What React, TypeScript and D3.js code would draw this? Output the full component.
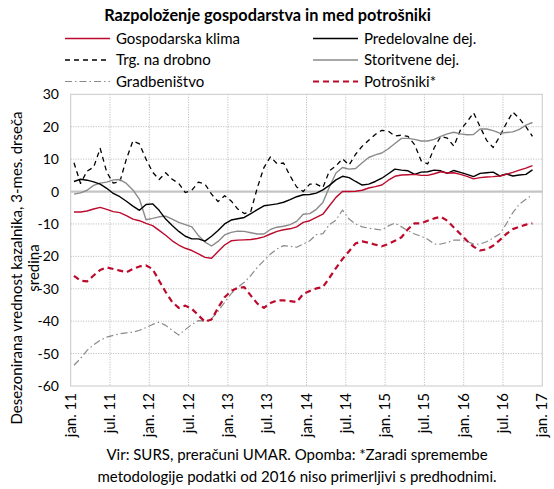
import * as d3 from "d3";

// mesečni podatki jan. 2011 – nov. 2016
const tickLabels = [
  "jan. 11", "jul. 11", "jan. 12", "jul. 12", "jan. 13", "jul. 13", "jan. 14",
  "jul. 14", "jan. 15", "jul. 15", "jan. 16", "jul. 16", "jan. 17",
];
const yTicks = [30, 20, 10, 0, -10, -20, -30, -40, -50, -60];

const klima = [
  -6.3, -6.3, -6.0, -5.4, -4.9, -5.5, -6.2, -6.5, -7.4, -8.5, -9.0, -9.8,
  -10.5, -12.0, -13.5, -15.2, -16.5, -17.5, -18.2, -19.2, -20.3, -20.6, -18.5, -16.5,
  -15.2, -15.0, -14.9, -14.8, -14.5, -14.0, -13.1, -12.3, -11.8, -11.5, -10.9, -9.5,
  -9.0, -8.0, -7.0, -4.4, -1.8, 0, 0, 0.1, 0.4, 1.1, 1.5, 2.0,
  3.5, 4.7, 5.1, 5.2, 5.3, 5.0, 5.0, 5.5, 6.1, 5.7, 5.8, 5.3,
  4.7, 3.9, 4.3, 4.5, 4.6, 4.8, 5.3, 5.9, 6.6, 7.2, 8.0,
];
const predelovalne = [
  3.1, 3.8, 3.5, 3.0, 2.3, 1.0, -0.6, -1.6, -3.0, -4.5, -5.8, -4.0,
  -3.8, -5.8, -8.5, -10.5, -12.3, -13.8, -14.6, -14.6, -15.3, -13.8, -12.0, -10.0,
  -8.8, -8.4, -8.0, -6.8, -5.6, -4.4, -4.1, -3.8, -3.3, -2.5, -1.6, -1.0,
  -0.9, -0.5, 0.5, 1.9, 3.6, 4.7, 4.3, 3.1, 2.0, 2.3, 3.1, 4.1,
  5.5, 6.9, 6.6, 6.4, 5.3, 6.0, 6.1, 6.6, 6.4, 5.6, 6.5, 5.9,
  5.3, 4.6, 5.6, 5.8, 6.0, 4.8, 5.4, 4.8, 5.1, 5.3, 6.7,
];
const trgovina = [
  8.9, 2.5, 6.3, 7.5, 13.3, 6.0, 2.6, 3.0, 10.0, 15.6, 14.7, 10.0,
  6.0, 3.7, 5.8, 3.8, 2.5, -0.3, 0.4, 2.9, 2.3, -0.8, -3.1, -1.3,
  -2.9, -5.4, -6.8, -6.1, 1.2, 7.4, 10.7, 8.6, 8.8, 4.8, 1.4, 0,
  2.3, 2.3, 1.2, 6.4, 7.9, 10.1, 8.2, 11.5, 14.0, 15.8, 17.6, 18.9,
  18.6, 17.1, 17.4, 17.0, 14.5, 9.5, 8.5, 13.5, 17.0, 16.5, 14.0, 19.0,
  21.5, 24.3, 20.0, 15.8, 13.6, 17.0, 21.0, 24.5, 22.5, 20.0, 17.0,
];
const storitve = [
  -0.8, -0.4, 0.4, 1.9, 2.6, 2.9, 3.6, 3.7, 2.5, 0.5, -2.4, -8.7,
  -8.3, -7.8, -7.6, -8.5, -9.5, -10.2, -10.9, -13.6, -15.6, -16.8, -15.4, -13.4,
  -12.6, -12.2, -12.3, -12.7, -13.1, -13.1, -11.7, -11.0, -10.7, -10.2, -9.2, -7.0,
  -6.8, -5.5, -3.4, 1.4, 5.7, 7.4, 6.9, 7.1, 8.9, 10.5, 11.3, 11.9,
  13.2, 14.8, 16.4, 16.4, 16.1, 15.6, 15.6, 16.1, 17.0, 17.8, 18.3, 17.8,
  17.5, 17.6, 19.3, 19.3, 18.8, 18.0, 18.2, 18.4, 19.2, 20.5, 21.3,
];
const gradbenistvo = [
  -53.6, -51.5, -49.0, -47.3, -45.9, -44.9, -44.4, -43.9, -43.6, -43.4, -42.8, -42.0,
  -41.0, -40.3, -41.3, -42.8, -44.3, -42.6, -41.0, -39.8, -40.0, -39.2, -37.0, -34.2,
  -31.5, -29.5, -28.0, -25.9, -23.4, -21.3, -19.3, -17.7, -16.7, -16.9, -17.2, -16.2,
  -15.2, -13.3, -13.0, -10.2, -8.8, -5.7, -8.5, -10.0, -10.9, -11.3, -11.6, -11.9,
  -10.6, -9.7, -10.9, -12.1, -13.1, -13.8, -14.7, -16.2, -16.2, -15.7, -15.0, -15.0,
  -15.4, -16.2, -16.2, -15.5, -14.3, -13.1, -10.0, -6.5, -3.9, -2.4, -1.0,
];
const potrosniki = [
  -26.0, -27.5, -27.7, -25.9, -24.2, -23.4, -23.9, -24.4, -24.9, -23.9, -23.1, -22.8,
  -23.9, -27.5, -31.0, -34.1, -35.9, -35.2, -36.2, -38.2, -40.2, -39.5, -35.9, -32.6,
  -30.7, -29.7, -29.5, -32.1, -34.6, -35.9, -34.4, -33.6, -33.6, -33.8, -34.1, -31.6,
  -30.7, -29.9, -29.5, -26.6, -23.6, -20.8, -18.4, -16.0, -15.4, -15.8, -16.4, -16.9,
  -16.2, -15.2, -14.1, -11.6, -9.8, -9.8, -9.0, -8.3, -7.8, -9.0, -11.1, -13.1,
  -15.2, -17.0, -18.2, -17.8, -16.7, -15.0, -13.1, -11.6, -10.9, -10.2, -9.8,
];

const RED = "#bc0a2c";
const GRAY = "#8a8a8a";
const FONT = "Lato, 'Open Sans', sans-serif";

const W = 554;
const H = 489;
const left = 70.7;
const right = 542.3;
const top = 94.3;
const bottom = 386;

const series = [
  { name: "Gradbeništvo", data: gradbenistvo, color: GRAY, width: 1.2, dash: "7,3,1.5,3", col: 0, row: 2 },
  { name: "Potrošniki*", data: potrosniki, color: RED, width: 2.2, dash: "6,4", col: 1, row: 2 },
  { name: "Trg. na drobno", data: trgovina, color: "#000", width: 1.3, dash: "5,4", col: 0, row: 1 },
  { name: "Storitvene dej.", data: storitve, color: GRAY, width: 1.4, dash: "none", col: 1, row: 1 },
  { name: "Predelovalne dej.", data: predelovalne, color: "#000", width: 1.4, dash: "none", col: 1, row: 0 },
  { name: "Gospodarska klima", data: klima, color: RED, width: 1.4, dash: "none", col: 0, row: 0 },
];

export default function App() {
  const x = d3.scaleLinear().domain([0, 72]).range([left, right]);
  const y = d3.scaleLinear().domain([-60, 30]).range([bottom, top]);
  const line = d3
    .line<number>()
    .x((_, i) => x(i + 0.5))
    .y((d) => y(d));

  const legendX = [65, 313];
  const legendY = [38.5, 60, 81.5];

  return (
    <svg
      width={W}
      height={H}
      style={{ position: "absolute", left: 0, top: 0, background: "#fff" }}
      fontFamily={FONT}
    >
      {/* naslov */}
      <text x={267.5} y={20.5} textAnchor="middle" fontSize={16.3} fontWeight="bold">
        Razpoloženje gospodarstva in med potrošniki
      </text>

      {/* legenda */}
      {series.map((s) => (
        <g key={s.name}>
          <line
            x1={legendX[s.col]}
            x2={legendX[s.col] + 45}
            y1={legendY[s.row]}
            y2={legendY[s.row]}
            stroke={s.color}
            strokeWidth={s.width}
            strokeDasharray={s.dash}
          />
          <text x={legendX[s.col] + 51} y={legendY[s.row] + 5} fontSize={15}>
            {s.name}
          </text>
        </g>
      ))}

      {/* mreža */}
      {yTicks.filter((t) => t !== 0 && t !== 30 && t !== -60).map((t) => (
        <line key={"h" + t} x1={left} x2={right} y1={y(t)} y2={y(t)} stroke="#b4b4b4" strokeDasharray="1,1.5" />
      ))}
      {tickLabels.slice(1, -1).map((_, i) => (
        <line key={"v" + i} x1={x((i + 1) * 6)} x2={x((i + 1) * 6)} y1={top} y2={bottom} stroke="#b4b4b4" strokeDasharray="1,1.5" />
      ))}
      <rect x={left} y={top} width={right - left} height={bottom - top} fill="none" stroke="#c8c8c8" />
      <line x1={left} x2={right} y1={y(0)} y2={y(0)} stroke="#c4c4c4" strokeWidth={2.2} />

      {/* črte */}
      {series.map((s) => (
        <path
          key={"p" + s.name}
          d={line(s.data) ?? ""}
          fill="none"
          stroke={s.color}
          strokeWidth={s.width}
          strokeDasharray={s.dash}
          strokeLinejoin="round"
        />
      ))}

      {/* os y */}
      {yTicks.map((t) => (
        <text key={"yl" + t} x={59} y={y(t) + 5} textAnchor="end" fontSize={14}>
          {t}
        </text>
      ))}
      <text transform="translate(22,268) rotate(-90)" textAnchor="middle" fontSize={15}>
        Desezonirana vrednost kazalnika, 3-mes. drseča
      </text>
      <text transform="translate(39,268) rotate(-90)" textAnchor="middle" fontSize={15}>
        sredina
      </text>

      {/* os x */}
      {tickLabels.map((l, i) => (
        <text
          key={l}
          transform={`translate(${x(i * 6) + 5},393) rotate(-90)`}
          textAnchor="end"
          fontSize={15}
        >
          {l}
        </text>
      ))}

      {/* vir */}
      <text x={297} y={460} textAnchor="middle" fontSize={15}>
        Vir: SURS, preračuni UMAR. Opomba: *Zaradi spremembe
      </text>
      <text x={297} y={482} textAnchor="middle" fontSize={15}>
        metodologije podatki od 2016 niso primerljivi s predhodnimi.
      </text>
    </svg>
  );
}
